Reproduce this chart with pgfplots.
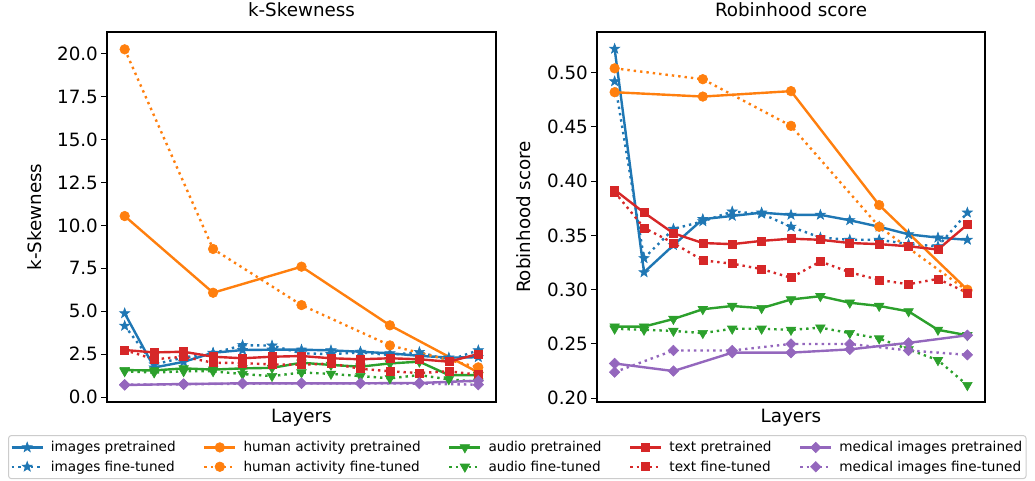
\documentclass[border=0pt]{standalone}
\usepackage{fontspec}
\setmainfont{DejaVu Sans}
\usepackage{pgfplots}
\pgfplotsset{compat=1.18}
\definecolor{cblue}{HTML}{1F77B4}
\definecolor{corange}{HTML}{FF7F0E}
\definecolor{cgreen}{HTML}{2CA02C}
\definecolor{cred}{HTML}{D62728}
\definecolor{cpurple}{HTML}{9467BD}
\pgfdeclareplotmark{fstar}{%
 \pgfpathmoveto{\pgfpointpolar{90}{1.1\pgfplotmarksize}}%
 \pgfpathlineto{\pgfpointpolar{126}{0.45\pgfplotmarksize}}%
 \pgfpathlineto{\pgfpointpolar{162}{1.1\pgfplotmarksize}}%
 \pgfpathlineto{\pgfpointpolar{198}{0.45\pgfplotmarksize}}%
 \pgfpathlineto{\pgfpointpolar{234}{1.1\pgfplotmarksize}}%
 \pgfpathlineto{\pgfpointpolar{270}{0.45\pgfplotmarksize}}%
 \pgfpathlineto{\pgfpointpolar{306}{1.1\pgfplotmarksize}}%
 \pgfpathlineto{\pgfpointpolar{342}{0.45\pgfplotmarksize}}%
 \pgfpathlineto{\pgfpointpolar{18}{1.1\pgfplotmarksize}}%
 \pgfpathlineto{\pgfpointpolar{54}{0.45\pgfplotmarksize}}%
 \pgfpathclose\pgfusepathqfillstroke}
\newcommand{\bigf}{\fontsize{18.3}{22}\selectfont}
\newcommand{\legf}{\fontsize{13.6}{16.3}\selectfont}
\pgfplotsset{
 ftdash/.style={dash pattern=on 2.4pt off 4pt},
 imgpre/.style={color=cblue, solid, line width=2.4pt, mark=fstar, mark size=4.8pt, mark options={solid, fill=cblue, line width=0.6pt}},
 imgft/.style={imgpre, ftdash},
 humpre/.style={color=corange, solid, line width=2.4pt, mark=*, mark size=4.8pt, mark options={solid, fill=corange, line width=0.6pt}},
 humft/.style={humpre, ftdash},
 audpre/.style={color=cgreen, solid, line width=2.4pt, mark=triangle*, mark size=5.5pt, mark options={solid, fill=cgreen, line width=0.6pt, rotate=180}},
 audft/.style={audpre, ftdash},
 txtpre/.style={color=cred, solid, line width=2.4pt, mark=square*, mark size=4pt, mark options={solid, fill=cred, line width=0.6pt}},
 txtft/.style={txtpre, ftdash},
 medpre/.style={color=cpurple, solid, line width=2.4pt, mark=square*, mark size=3.7pt, mark options={solid, fill=cpurple, line width=0.6pt, rotate=45}},
 medft/.style={medpre, ftdash},
 common/.style={
  scale only axis, anchor=south west, height=370pt,
  xmin=-0.6, xmax=12.6, xtick=\empty,
  ytick pos=left, tick align=outside, major tick length=5.6pt,
  tick style={black, line width=1pt},
  axis line style={black, line width=1.1pt},
  /pgf/number format/assume math mode=true,
  ticklabel style={font=\bigf},
  label style={font=\bigf},
  title style={font=\bigf, at={(axis description cs:0.5,1.043)}, anchor=center},
  xlabel style={at={(axis description cs:0.5,-0.043)}, anchor=center},
  xlabel={Layers},
  legend image code/.code={\draw[mark repeat=2,mark phase=2] plot coordinates {(0pt,0pt) (15.5pt,0pt) (31pt,0pt)};},
 },
}
\begin{document}
\begin{tikzpicture}[font=\bigf]
\useasboundingbox (0,0) rectangle (1035pt,480pt);
\begin{axis}[common, at={(107pt,78pt)}, width=389pt,
  ymin=-0.29, ymax=21.28, ytick={0,2.5,...,20},
  yticklabel style={/pgf/number format/fixed, /pgf/number format/zerofill, /pgf/number format/precision=1},
  title={k-Skewness}, ylabel={k-Skewness},
  ylabel style={at={(axis description cs:-0.185,0.5)}, anchor=center}]
\addplot[imgpre] coordinates {(0,4.88)(1,1.72)(2,2.05)(3,2.58)(4,2.74)(5,2.76)(6,2.76)(7,2.72)(8,2.64)(9,2.55)(10,2.4)(11,2.3)(12,2.32)};
\addplot[imgft] coordinates {(0,4.15)(1,1.9)(2,2.3)(3,2.55)(4,3.02)(5,3.0)(6,2.55)(7,2.5)(8,2.6)(9,2.45)(10,2.62)(11,2.15)(12,2.72)};
\addplot[humpre] coordinates {(0,10.55)(3,6.08)(6,7.6)(9,4.18)(12,1.43)};
\addplot[humft] coordinates {(0,20.27)(3,8.63)(6,5.36)(9,3.01)(12,1.73)};
\addplot[audpre] coordinates {(0,1.57)(1,1.55)(2,1.67)(3,1.6)(4,1.67)(5,1.7)(6,2.0)(7,1.87)(8,1.77)(9,1.96)(10,2.06)(11,1.28)(12,1.28)};
\addplot[audft] coordinates {(0,1.5)(1,1.43)(2,1.5)(3,1.5)(4,1.34)(5,1.22)(6,1.43)(7,1.35)(8,1.22)(9,1.09)(10,1.28)(11,1.03)(12,0.89)};
\addplot[txtpre] coordinates {(0,2.74)(1,2.6)(2,2.64)(3,2.35)(4,2.26)(5,2.35)(6,2.39)(7,2.26)(8,2.2)(9,2.26)(10,2.2)(11,2.06)(12,2.51)};
\addplot[txtft] coordinates {(0,2.74)(1,2.2)(2,2.35)(3,2.0)(4,1.98)(5,1.9)(6,1.88)(7,1.95)(8,1.65)(9,1.5)(10,1.4)(11,1.5)(12,1.3)};
\addplot[medpre] coordinates {(0,0.7)(2,0.76)(4,0.8)(6,0.8)(8,0.8)(10,0.82)(12,0.95)};
\addplot[medft] coordinates {(0,0.72)(2,0.74)(4,0.78)(6,0.8)(8,0.8)(10,0.78)(12,0.72)};
\end{axis}
\begin{axis}[common, at={(597pt,78pt)}, width=388pt,
  ymin=0.1965, ymax=0.5375, ytick={0.2,0.25,...,0.51},
  yticklabel style={/pgf/number format/fixed, /pgf/number format/zerofill, /pgf/number format/precision=2},
  title={Robinhood score}, ylabel={Robinhood score},
  ylabel style={at={(axis description cs:-0.188,0.5)}, anchor=center},
  legend columns=5,
  legend style={at={(axis description cs:-1.518,-0.0892)}, anchor=north west,
    draw=black!20, rounded corners=3pt, line width=1pt,
    font=\legf, inner xsep=2pt, inner ysep=4pt,
    /tikz/every odd column/.append style={column sep=5pt},
    /tikz/every even column/.append style={column sep=25.5pt}, row sep=3.5pt},
  legend cell align=left]
\addlegendimage{imgpre}\addlegendentry{images pretrained}
\addlegendimage{humpre}\addlegendentry{human activity pretrained}
\addlegendimage{audpre}\addlegendentry{audio pretrained}
\addlegendimage{txtpre}\addlegendentry{text pretrained}
\addlegendimage{medpre}\addlegendentry{medical images pretrained}
\addlegendimage{imgft}\addlegendentry{images fine-tuned}
\addlegendimage{humft}\addlegendentry{human activity fine-tuned}
\addlegendimage{audft}\addlegendentry{audio fine-tuned}
\addlegendimage{txtft}\addlegendentry{text fine-tuned}
\addlegendimage{medft}\addlegendentry{medical images fine-tuned}
\addplot[imgpre, forget plot] coordinates {(0,0.522)(1,0.316)(2,0.341)(3,0.365)(4,0.368)(5,0.371)(6,0.369)(7,0.369)(8,0.364)(9,0.358)(10,0.351)(11,0.348)(12,0.346)};
\addplot[imgft, forget plot] coordinates {(0,0.492)(1,0.329)(2,0.356)(3,0.363)(4,0.372)(5,0.370)(6,0.358)(7,0.348)(8,0.346)(9,0.346)(10,0.342)(11,0.340)(12,0.371)};
\addplot[humpre, forget plot] coordinates {(0,0.482)(3,0.478)(6,0.483)(9,0.378)(12,0.300)};
\addplot[humft, forget plot] coordinates {(0,0.504)(3,0.494)(6,0.451)(9,0.358)(12,0.299)};
\addplot[audpre, forget plot] coordinates {(0,0.266)(1,0.266)(2,0.273)(3,0.282)(4,0.285)(5,0.283)(6,0.291)(7,0.294)(8,0.288)(9,0.285)(10,0.280)(11,0.263)(12,0.258)};
\addplot[audft, forget plot] coordinates {(0,0.264)(1,0.263)(2,0.262)(3,0.260)(4,0.264)(5,0.264)(6,0.263)(7,0.265)(8,0.260)(9,0.255)(10,0.245)(11,0.235)(12,0.212)};
\addplot[txtpre, forget plot] coordinates {(0,0.392)(1,0.371)(2,0.352)(3,0.343)(4,0.342)(5,0.345)(6,0.347)(7,0.346)(8,0.343)(9,0.342)(10,0.340)(11,0.337)(12,0.360)};
\addplot[txtft, forget plot] coordinates {(0,0.390)(1,0.357)(2,0.343)(3,0.327)(4,0.324)(5,0.319)(6,0.311)(7,0.326)(8,0.316)(9,0.309)(10,0.305)(11,0.310)(12,0.297)};
\addplot[medpre, forget plot] coordinates {(0,0.232)(2,0.225)(4,0.242)(6,0.242)(8,0.245)(10,0.251)(12,0.258)};
\addplot[medft, forget plot] coordinates {(0,0.224)(2,0.244)(4,0.244)(6,0.250)(8,0.250)(10,0.244)(12,0.240)};
\end{axis}
\end{tikzpicture}
\end{document}
